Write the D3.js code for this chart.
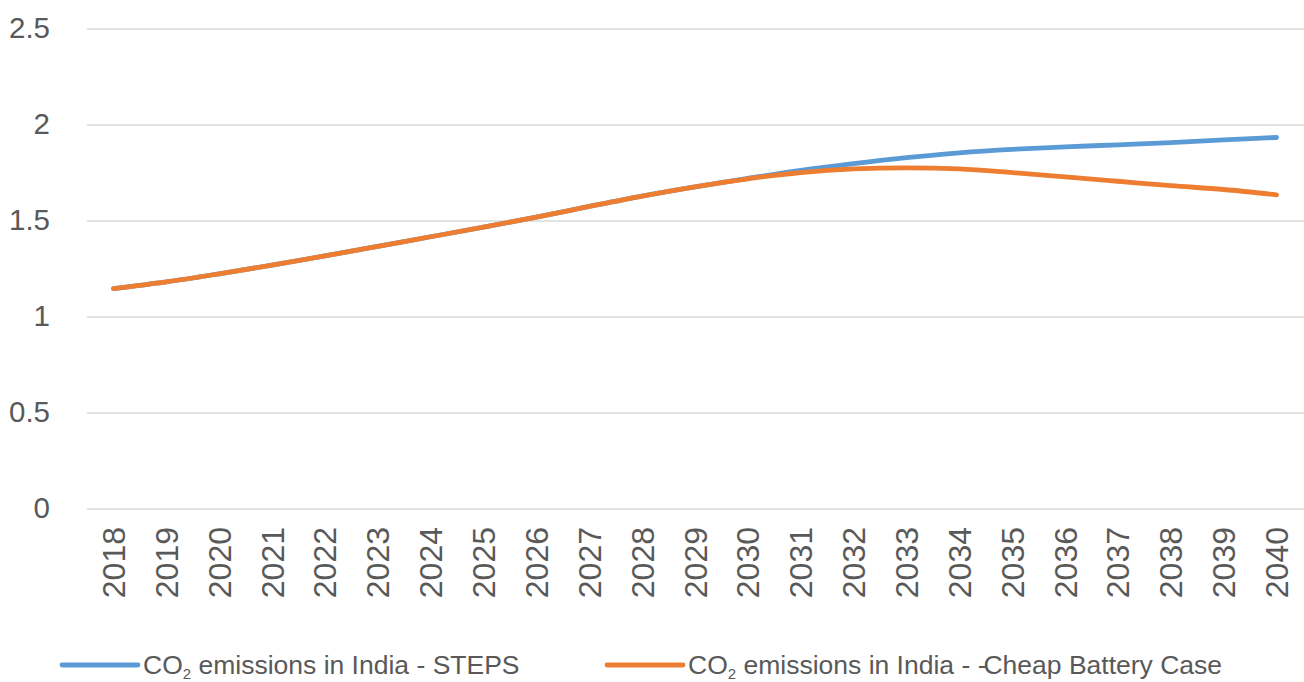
<!DOCTYPE html>
<html>
<head>
<meta charset="utf-8">
<script src="https://cdn.jsdelivr.net/npm/d3@7"></script>
<style>
  html, body { margin: 0; padding: 0; background: #fff; }
  svg { display: block; font-family: "Liberation Sans", Arial, sans-serif; }
</style>
</head>
<body>
<svg id="chart" width="1304" height="682"></svg>
<script>
// Years on the category axis
const years = ["2018","2019","2020","2021","2022","2023","2024","2025","2026","2027","2028",
  "2029","2030","2031","2032","2033","2034","2035","2036","2037","2038","2039","2040"];

// CO2 emissions in India, Gt — Stated Policies scenario
const steps = [1.148, 1.183, 1.225, 1.270, 1.318, 1.368, 1.418, 1.468, 1.520, 1.576, 1.630,
  1.678, 1.722, 1.764, 1.799, 1.830, 1.855, 1.873, 1.886, 1.897, 1.908, 1.923, 1.935];

// CO2 emissions in India, Gt — Cheap Battery Case
const cheapBattery = [1.148, 1.183, 1.225, 1.270, 1.318, 1.368, 1.418, 1.468, 1.520, 1.576, 1.630,
  1.678, 1.720, 1.752, 1.771, 1.777, 1.771, 1.752, 1.730, 1.707, 1.684, 1.664, 1.636];

const yTicks = [0, 0.5, 1, 1.5, 2, 2.5];

const colors = ["#5B9BD5", "#ED7D31"];

const svg = d3.select("#chart");
const textColor = "#595959";

const margin = { left: 87, right: 1, top: 29, bottom: 173 };
const W = 1304, H = 682;

const x = d3.scaleBand().domain(years).range([margin.left, W - margin.right]);
const y = d3.scaleLinear().domain([0, 2.5]).range([H - margin.bottom, margin.top]);

// Horizontal gridlines
svg.append("g")
  .selectAll("line")
  .data(yTicks)
  .join("line")
  .attr("x1", margin.left)
  .attr("x2", W)
  .attr("y1", d => y(d))
  .attr("y2", d => y(d))
  .attr("stroke", "#d9d9d9")
  .attr("stroke-width", 1.5);

// Y axis labels
const yAxis = d3.axisLeft(y).tickValues(yTicks).tickSize(0).tickPadding(0)
  .tickFormat(d => String(d));
svg.append("g")
  .attr("transform", "translate(50,0)")
  .call(yAxis)
  .call(g => g.select(".domain").remove())
  .call(g => g.selectAll("text")
    .attr("font-size", 29.5)
    .attr("fill", textColor)
    .attr("dy", "0.3em")
    .style("font-family", "'Liberation Sans', Arial, sans-serif"));

// X axis labels, rotated
const xAxis = d3.axisBottom(x).tickSize(0).tickPadding(0);
svg.append("g")
  .attr("transform", `translate(0,${H - margin.bottom})`)
  .call(xAxis)
  .call(g => g.select(".domain").remove())
  .call(g => g.selectAll("text")
    .attr("font-size", 32)
    .attr("fill", textColor)
    .attr("text-anchor", "end")
    .attr("transform", "rotate(-90)")
    .attr("x", -18)
    .attr("y", 0)
    .attr("dy", "0.36em")
    .style("font-family", "'Liberation Sans', Arial, sans-serif"));

// Smoothed lines
const line = d3.line()
  .x((d, i) => x(years[i]) + x.bandwidth() / 2)
  .y(d => y(d))
  .curve(d3.curveCatmullRom.alpha(0.5));

[steps, cheapBattery].forEach((vals, k) => {
  svg.append("path")
    .datum(vals)
    .attr("d", line)
    .attr("fill", "none")
    .attr("stroke", colors[k])
    .attr("stroke-width", 4.8)
    .attr("stroke-linecap", "round")
    .attr("stroke-linejoin", "round");
});

// Legend
const legend = svg.append("g");
const legendItems = [
  { x0: 62, parts: [" emissions in India - STEPS"] },
  { x0: 607, parts: [" emissions in India - -", "Cheap Battery Case"] }
];
legendItems.forEach((it, k) => {
  legend.append("line")
    .attr("x1", it.x0).attr("x2", it.x0 + 76)
    .attr("y1", 665).attr("y2", 665)
    .attr("stroke", colors[k])
    .attr("stroke-width", 4.8)
    .attr("stroke-linecap", "round");
  const t = legend.append("text")
    .attr("x", it.x0 + 81)
    .attr("y", 674)
    .attr("font-size", 26.5)
    .attr("fill", textColor);
  t.append("tspan").text("CO");
  t.append("tspan").attr("font-size", 15).attr("dy", 5).text("2");
  t.append("tspan").attr("dy", -5).text(it.parts[0]);
  if (it.parts[1]) t.append("tspan").attr("dx", -3).text(it.parts[1]);
});
</script>
</body>
</html>
